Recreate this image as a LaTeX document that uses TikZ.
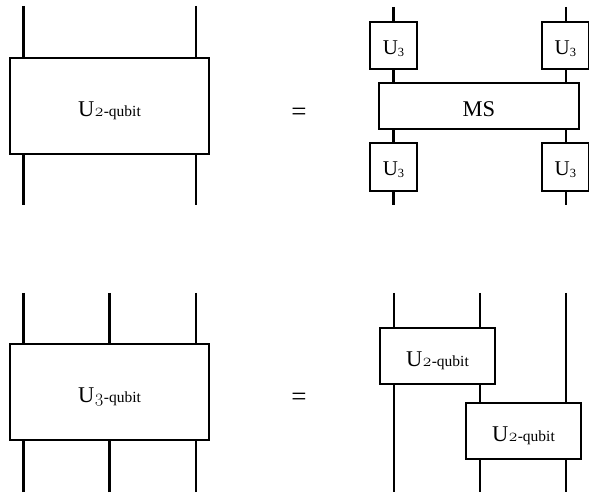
\documentclass[tikz,border=0pt]{standalone}
\usepackage{fontspec}
\setmainfont{Liberation Serif}
\newfontfamily\osnum[Numbers=OldStyle]{Latin Modern Roman}
\newcommand{\bigU}[1]{\raisebox{-10.5pt}{\fontsize{22.5}{24}\selectfont U\fontsize{15.5}{18}\selectfont{\fontsize{18}{20}\osnum #1}-qubit}}
\newcommand{\Uthree}{\raisebox{-9pt}{\fontsize{21}{24}\selectfont U\raisebox{-2pt}{\fontsize{12.5}{14}\selectfont 3}}}
\tikzset{
  x=1pt,y=-1pt,
  gatebox/.style={draw=black,line width=2.3pt,fill=white,inner sep=0pt,outer sep=0pt,text height=0pt,text depth=0pt},
  wire/.style={draw=black,line width=2.3pt},
  eqsign/.style={inner sep=0pt,font=\fontsize{27}{30}\selectfont},
}
\begin{document}
\begin{tikzpicture}
\useasboundingbox (0,0) rectangle (589,494);
% --- wire ends
\foreach \n/\x/\y in {a1/23.5/6,a2/196/6,a3/23.5/205,a4/196/205,
  b1/393.5/7,b2/566/7,b3/393.5/205,b4/566/205,
  c1/23.5/293,c2/109.5/293,c3/196/293,c4/23.5/492,c5/109.5/492,c6/196/492,
  d1/394/293,d2/480/293,d3/566/293,d4/394/492,d5/480/492,d6/566/492}
  \coordinate (\n) at (\x,\y);
% --- top left
\node[gatebox,minimum width=199pt,minimum height=96pt] (A) at (109.5,106) {\bigU{2}};
\draw[wire] (a1) -- (a1 |- A.north);
\draw[wire] (a2) -- (a2 |- A.north);
\draw[wire] (a3) -- (a3 |- A.south);
\draw[wire] (a4) -- (a4 |- A.south);
\node[eqsign] (eq1) at (299,114) {=};
% --- top right
\node[gatebox,minimum width=200pt,minimum height=46pt] (MS) at (479,106) {\raisebox{-10.5pt}{\fontsize{22.5}{24}\selectfont MS}};
\node[gatebox,minimum width=47.5pt,minimum height=47pt] (u1) at (393.5,45.5) {\Uthree};
\node[gatebox,minimum width=47pt,minimum height=47pt] (u2) at (565.3,45.5) {\Uthree};
\node[gatebox,minimum width=47.5pt,minimum height=48pt] (u3) at (393.5,166.7) {\Uthree};
\node[gatebox,minimum width=47pt,minimum height=48pt] (u4) at (565.3,166.7) {\Uthree};
\draw[wire] (b1) -- (u1);
\draw[wire] (b2) -- (b2 |- u2.north);
\draw[wire] (u1) -- (u1 |- MS.north);
\draw[wire] (b2 |- u2.south) -- (b2 |- MS.north);
\draw[wire] (u3 |- MS.south) -- (u3);
\draw[wire] (b4 |- MS.south) -- (b4 |- u4.north);
\draw[wire] (u3) -- (b3);
\draw[wire] (b4 |- u4.south) -- (b4);
% --- bottom left
\node[gatebox,minimum width=199pt,minimum height=96pt] (C) at (109.5,392) {\bigU{3}};
\foreach \n in {c1,c2,c3} \draw[wire] (\n) -- (\n |- C.north);
\foreach \n in {c4,c5,c6} \draw[wire] (\n) -- (\n |- C.south);
\node[eqsign] (eq2) at (299,399) {=};
% --- bottom right
\node[gatebox,minimum width=115pt,minimum height=56pt] (D) at (437.5,356) {\bigU{2}};
\node[gatebox,minimum width=115pt,minimum height=56pt] (E) at (523.5,431) {\bigU{2}};
\draw[wire] (d1) -- (d1 |- D.north);
\draw[wire] (d2) -- (d2 |- D.north);
\draw[wire] (d3) -- (d3 |- E.north);
\draw[wire] (d1 |- D.south) -- (d4);
\draw[wire] (d2 |- D.south) -- (d2 |- E.north);
\draw[wire] (d5 |- E.south) -- (d5);
\draw[wire] (d6 |- E.south) -- (d6);
\end{tikzpicture}
\end{document}
